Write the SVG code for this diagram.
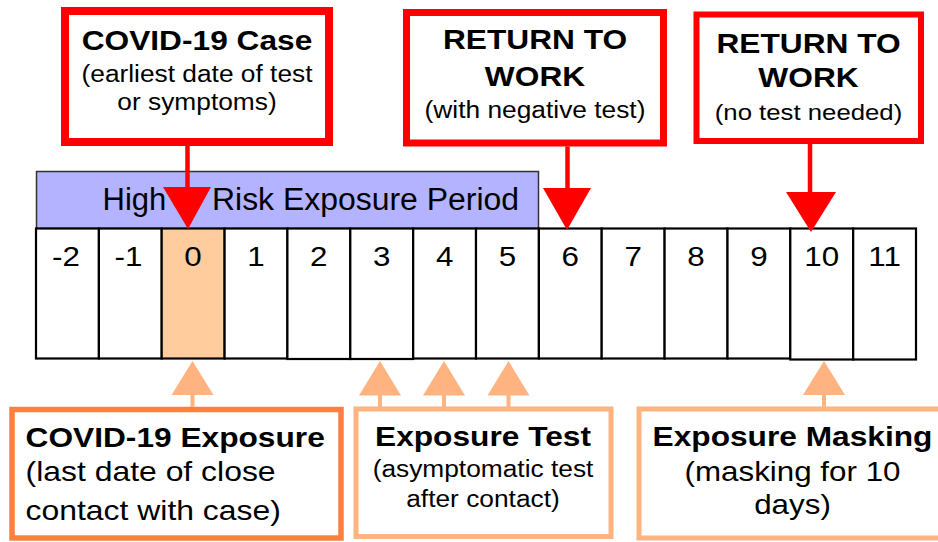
<svg xmlns="http://www.w3.org/2000/svg" width="938" height="542" viewBox="0 0 938 542">
<style>
text{font-family:"Liberation Sans",Arial,Helvetica,sans-serif;fill:#000}
.t{font-weight:bold;font-size:28.3px;text-anchor:middle}
.s{font-size:23.5px;text-anchor:middle}
.m{font-size:28px;text-anchor:middle}
.d{font-size:28px;text-anchor:middle}
.b{font-size:31px}
.red{fill:#fff;stroke:#ff0000}
.redl{stroke:#ff0000;stroke-width:4.5;fill:none}
.redh{fill:#ff0000}
.orl{stroke:#ffb380;stroke-width:4;fill:none}
.orh{fill:#ffb380}
.cell{fill:#fff;stroke:#000;stroke-width:2.2}
</style>
<rect x="0" y="0" width="938" height="542" fill="#fff"/>

<g id="period">
<rect x="36.5" y="171.5" width="502" height="57" fill="#b3b3ff" stroke="#333" stroke-width="1.5"/>
<text class="b" x="102.5" y="209.5">High</text>
<text class="b" x="212" y="209.5" textLength="307" lengthAdjust="spacingAndGlyphs">Risk Exposure Period</text>
</g>

<g id="timeline">
<rect id="day-m2" class="cell" x="36" y="228.5" width="62.9" height="130"/>
<rect id="day-m1" class="cell" x="98.9" y="228.5" width="62.8" height="130"/>
<rect id="day-0" class="cell" x="161.7" y="228.5" width="62.9" height="130" style="fill:#ffcc9e"/>
<rect id="day-1" class="cell" x="224.6" y="228.5" width="62.8" height="130"/>
<rect id="day-2" class="cell" x="287.4" y="228.5" width="62.9" height="130.5"/>
<rect id="day-3" class="cell" x="350.3" y="228.5" width="62.9" height="130.5"/>
<rect id="day-4" class="cell" x="413.2" y="228.5" width="62.8" height="130"/>
<rect id="day-5" class="cell" x="476" y="228.5" width="62.9" height="130"/>
<rect id="day-6" class="cell" x="538.9" y="228.5" width="62.8" height="130"/>
<rect id="day-7" class="cell" x="601.7" y="228.5" width="62.9" height="130"/>
<rect id="day-8" class="cell" x="664.6" y="228.5" width="62.9" height="130"/>
<rect id="day-9" class="cell" x="727.5" y="228.5" width="62.8" height="130"/>
<rect id="day-10" class="cell" x="790.3" y="228.5" width="62.9" height="131"/>
<rect id="day-11" class="cell" x="853.2" y="228.5" width="62.8" height="131"/>
<text class="d" transform="translate(66,266) scale(1.12,1)">-2</text>
<text class="d" transform="translate(128.5,266) scale(1.12,1)">-1</text>
<text class="d" transform="translate(193,266) scale(1.12,1)">0</text>
<text class="d" transform="translate(256,266) scale(1.12,1)">1</text>
<text class="d" transform="translate(318.8,266) scale(1.12,1)">2</text>
<text class="d" transform="translate(381.7,266) scale(1.12,1)">3</text>
<text class="d" transform="translate(444.6,266) scale(1.12,1)">4</text>
<text class="d" transform="translate(507.4,266) scale(1.12,1)">5</text>
<text class="d" transform="translate(570.3,266) scale(1.12,1)">6</text>
<text class="d" transform="translate(633.1,266) scale(1.12,1)">7</text>
<text class="d" transform="translate(696,266) scale(1.12,1)">8</text>
<text class="d" transform="translate(758.9,266) scale(1.12,1)">9</text>
<text class="d" transform="translate(821.7,266) scale(1.12,1)">10</text>
<text class="d" transform="translate(884.6,266) scale(1.12,1)">11</text>
</g>

<g id="case">
<rect class="red" x="65" y="11" width="264" height="131" stroke-width="8"/>
<text class="t" transform="translate(197,50) scale(1.12,1)">COVID-19 Case</text>
<text class="s" transform="translate(197,82) scale(1.12,1)">(earliest date of test</text>
<text class="s" transform="translate(197,110) scale(1.12,1)">or symptoms)</text>
</g>

<g id="return-test">
<rect class="red" x="406.5" y="12.5" width="257" height="130.5" stroke-width="7"/>
<text class="t" transform="translate(535,49) scale(1.12,1)">RETURN TO</text>
<text class="t" transform="translate(535,86) scale(1.12,1)">WORK</text>
<text class="s" transform="translate(535,118) scale(1.12,1)">(with negative test)</text>
</g>

<g id="return-notest">
<rect class="red" x="696.5" y="14.5" width="224.5" height="126.5" stroke-width="6"/>
<text class="t" transform="translate(808.5,53) scale(1.12,1)">RETURN TO</text>
<text class="t" transform="translate(808.5,87) scale(1.12,1)">WORK</text>
<text class="s" transform="translate(808.5,120) scale(1.12,1)" style="font-size:23px">(no test needed)</text>
</g>

<g id="exposure">
<rect x="12" y="409.5" width="329" height="128.5" fill="#fff" stroke="#ff7f40" stroke-width="5.5"/>
<text class="t" transform="translate(25.5,446.5) scale(1.12,1)" style="text-anchor:start">COVID-19 Exposure</text>
<text class="m" transform="translate(25.5,481) scale(1.12,1)" style="text-anchor:start;font-size:28.5px">(last date of close</text>
<text class="m" transform="translate(25.5,520) scale(1.12,1)" style="text-anchor:start;font-size:28.5px">contact with case)</text>
</g>

<g id="exposure-test">
<rect x="356" y="409" width="255" height="127.5" fill="#fff" stroke="#ffb380" stroke-width="5"/>
<text class="t" transform="translate(483,446) scale(1.12,1)">Exposure Test</text>
<text class="s" transform="translate(483,477) scale(1.12,1)">(asymptomatic test</text>
<text class="s" transform="translate(483,507) scale(1.12,1)">after contact)</text>
</g>

<g id="exposure-masking">
<rect x="639" y="409" width="307" height="129" fill="#fff" stroke="#ffb380" stroke-width="5"/>
<text class="t" transform="translate(792.5,446) scale(1.12,1)">Exposure Masking</text>
<text class="m" transform="translate(792.5,480.5) scale(1.12,1)">(masking for 10</text>
<text class="m" transform="translate(792.5,514) scale(1.12,1)">days)</text>
</g>

<g id="connectors">
<line class="redl" x1="187.5" y1="146" x2="187.5" y2="190"/>
<polygon class="redh" points="163,187 211,187 188,229"/>
<line class="redl" x1="567.5" y1="146.5" x2="567.5" y2="191"/>
<polygon class="redh" points="543,188 591,188 567,230"/>
<line class="redl" x1="810" y1="144" x2="810" y2="195"/>
<polygon class="redh" points="786,192 836,192 811,232"/>
<line class="orl" x1="192.5" y1="394" x2="192.5" y2="407"/>
<polygon class="orh" points="171.5,395 213.5,395 192.5,361"/>
<line class="orl" x1="380" y1="394" x2="380" y2="407"/>
<polygon class="orh" points="359,395.5 401,395.5 380,361"/>
<line class="orl" x1="444" y1="394" x2="444" y2="407"/>
<polygon class="orh" points="423,395.5 465,395.5 444,361"/>
<line class="orl" x1="508.5" y1="394" x2="508.5" y2="407"/>
<polygon class="orh" points="487.5,395.5 529.5,395.5 508.5,361"/>
<line class="orl" x1="824" y1="394" x2="824" y2="407"/>
<polygon class="orh" points="803,395 845,395 824,361"/>
</g>
</svg>
